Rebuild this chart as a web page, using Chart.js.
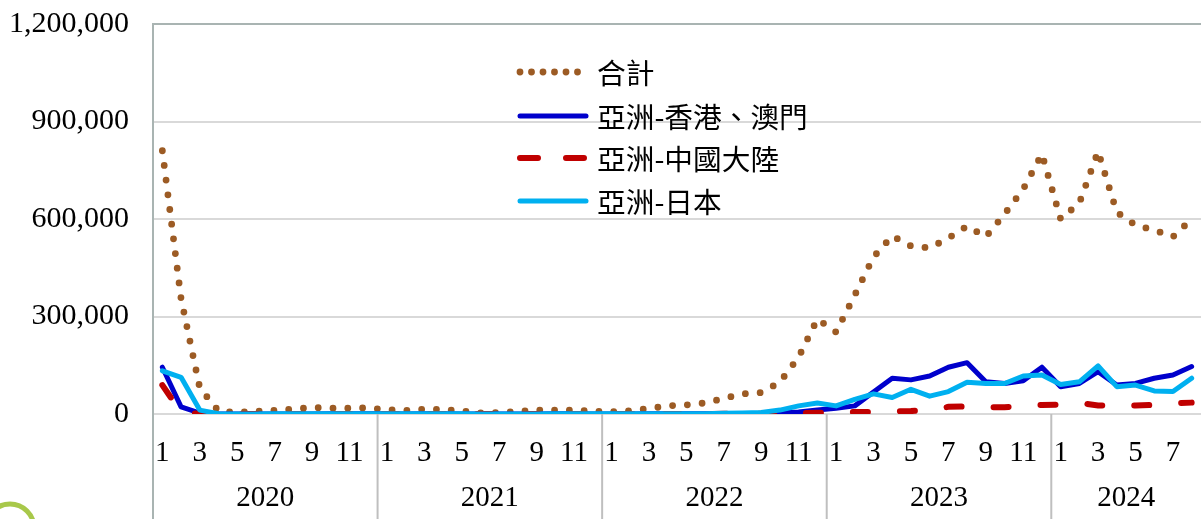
<!DOCTYPE html>
<html lang="zh-Hant">
<head>
<meta charset="UTF-8" />
<title>亞洲旅客人數</title>
<script src="https://cdn.jsdelivr.net/npm/chart.js"></script>
<style>
  html, body { margin: 0; padding: 0; background: #fff; overflow: hidden; }
  .wrap { width: 1201px; height: 519px; position: relative; }
</style>
</head>
<body>
<div class="wrap"><canvas id="chart"></canvas></div>
<script>
// months shown on the axis, one entry per data point (2020-01 .. 2024-08)
const years = ["2020", "2021", "2022", "2023", "2024"];
const monthsPerYear = [12, 12, 12, 12, 8];
const months = [];
years.forEach((y, i) => {
  for (let m = 1; m <= monthsPerYear[i]; m++) months.push(String(m));
});

const yTicks = [0, 300000, 600000, 900000, 1200000];

const total = [
  810000, 355000, 80000, 9000, 5000, 8000, 11000, 15000, 20000, 18000, 18000, 19000,
  13000, 11000, 15000, 14000, 9000, 3000, 4000, 8000, 12000, 12000, 12000, 9000,
  7000, 10000, 17000, 25000, 28000, 34000, 48000, 62000, 66000, 98000, 175000, 292000,
  252000, 366000, 483000, 548000, 517000, 511000, 541000, 578000, 545000, 615000, 692000, 800000,
  600000, 649000, 808000, 621000, 581000, 566000, 545000, 600000
];
const hkMacau = [
  144000, 22000, 3000, 500, 300, 300, 300, 300, 300, 400, 400, 500,
  400, 300, 400, 400, 300, 200, 200, 300, 300, 400, 400, 300,
  300, 300, 400, 400, 500, 600, 800, 1000, 1500, 3000, 6000, 12000,
  18000, 25000, 68000, 110000, 105000, 117000, 144000, 158000, 99000, 94000, 102000, 144000,
  84000, 94000, 130000, 89000, 94000, 110000, 120000, 146000
];
const china = [
  89000, 5000, 500, 200, 200, 300, 300, 300, 300, 300, 300, 300,
  200, 200, 200, 200, 200, 100, 100, 200, 200, 200, 200, 200,
  200, 200, 200, 200, 300, 300, 400, 500, 700, 1000, 3000, 4000,
  5000, 6000, 6000, 8000, 9000, 12000, 22000, 23000, 21000, 21000, 24000, 28000,
  29000, 34000, 26000, 26000, 26000, 28000, 33000, 35000
];
const japan = [
  133000, 113000, 12000, 1000, 300, 300, 400, 500, 500, 600, 700, 800,
  600, 500, 500, 500, 400, 300, 300, 300, 300, 400, 500, 500,
  400, 500, 600, 700, 800, 1000, 2000, 3000, 5000, 12000, 25000, 34000,
  25000, 45000, 62000, 51000, 76000, 55000, 69000, 98000, 94000, 94000, 117000, 120000,
  91000, 99000, 148000, 84000, 89000, 71000, 69000, 110000
];

const serif = "'Liberation Serif', 'Times New Roman', serif";
const cjk = "'Noto Sans CJK TC', 'Noto Sans CJK SC', sans-serif";

const decor = {
  id: "decor",
  afterDraw(chart) {
    const ctx = chart.ctx;
    const xs = chart.scales.x;
    const area = chart.chartArea;
    const H = chart.height;
    ctx.save();

    // year separators and year labels
    let start = 0;
    ctx.strokeStyle = "#BFBFBF";
    ctx.lineWidth = 2;
    ctx.fillStyle = "#000";
    ctx.font = "29px " + serif;
    ctx.textAlign = "center";
    ctx.textBaseline = "middle";
    years.forEach((y, i) => {
      const end = start + monthsPerYear[i] - 1;
      if (start > 0) {
        const sx = (xs.getPixelForValue(start - 1) + xs.getPixelForValue(start)) / 2;
        ctx.beginPath();
        ctx.moveTo(sx, area.bottom);
        ctx.lineTo(sx, H);
        ctx.stroke();
      }
      const cx = (xs.getPixelForValue(start) + xs.getPixelForValue(end)) / 2;
      ctx.fillText(y, cx, 498);
      start = end + 1;
    });
    ctx.strokeStyle = "#A9B4B2";
    ctx.beginPath();
    ctx.moveTo(area.left, area.bottom);
    ctx.lineTo(area.left, H);
    ctx.stroke();

    // legend inside plot area
    const rows = [72, 116, 158, 201];
    ctx.textAlign = "left";
    ctx.font = "28.7px " + cjk;
    chart.data.datasets.forEach((ds, i) => {
      const y = rows[i];
      ctx.strokeStyle = ds.borderColor;
      ctx.lineWidth = ds.borderWidth;
      ctx.lineCap = "round";
      ctx.setLineDash(ds.legendDash || []);
      ctx.beginPath();
      ctx.moveTo(520, y);
      ctx.lineTo(586, y);
      ctx.stroke();
      ctx.setLineDash([]);
      ctx.fillStyle = "#000";
      ctx.fillText(ds.label, 597, y + 1);
    });

    // corner logo arc
    ctx.strokeStyle = "#A8C84A";
    ctx.lineWidth = 5;
    ctx.beginPath();
    ctx.arc(10, 528, 24, 0, Math.PI * 2);
    ctx.stroke();
    ctx.restore();
  }
};

new Chart(document.getElementById("chart"), {
  type: "line",
  data: {
    labels: months,
    datasets: [
      {
        label: "合計",
        data: total,
        borderColor: "#9C5B24",
        borderWidth: 6.8,
        borderDash: [0, 14.8],
        legendDash: [0, 11.5],
        borderCapStyle: "round",
        pointRadius: 0,
        order: 4
      },
      {
        label: "亞洲-香港、澳門",
        data: hkMacau,
        borderColor: "#0000CC",
        borderWidth: 5,
        borderJoinStyle: "round",
        borderCapStyle: "round",
        pointRadius: 0,
        order: 3
      },
      {
        label: "亞洲-中國大陸",
        data: china,
        borderColor: "#C00000",
        borderWidth: 6,
        borderDash: [15, 32],
        legendDash: [18, 28],
        borderCapStyle: "round",
        pointRadius: 0,
        order: 2
      },
      {
        label: "亞洲-日本",
        data: japan,
        borderColor: "#00B0F0",
        borderWidth: 5,
        borderJoinStyle: "round",
        borderCapStyle: "round",
        pointRadius: 0,
        order: 1
      }
    ]
  },
  options: {
    responsive: true,
    maintainAspectRatio: false,
    animation: false,
    layout: { padding: { top: 24, right: 0, left: 0, bottom: 0 } },
    plugins: {
      legend: { display: false },
      tooltip: { enabled: false }
    },
    scales: {
      x: {
        type: "category",
        offset: true,
        grid: { display: false, drawTicks: false },
        border: { display: false },
        ticks: {
          autoSkip: false,
          maxRotation: 0,
          minRotation: 0,
          padding: 22,
          color: "#000",
          font: { family: serif, size: 29 },
          callback: function (v, i) {
            const m = Number(months[i]);
            return m % 2 === 1 ? months[i] : "";
          }
        },
        afterFit(scale) {
          scale.height = 105;
          scale.paddingLeft = 0;
          scale.paddingRight = 0;
        }
      },
      y: {
        min: 0,
        max: 1200000,
        afterBuildTicks(scale) {
          scale.ticks = yTicks.map((v) => ({ value: v }));
        },
        grid: {
          color: (c) => (c.tick && c.tick.value === 1200000 ? "#A9B4B2" : "#D9D9D9"),
          lineWidth: 2,
          drawTicks: false
        },
        border: { display: true, color: "#A9B4B2", width: 2 },
        ticks: {
          padding: 24,
          color: "#000",
          font: { family: serif, size: 30 },
          callback: (v) => Number(v).toLocaleString("en-US")
        },
        afterFit(scale) {
          scale.width = 153;
          scale.paddingTop = 0;
          scale.paddingBottom = 0;
        }
      }
    }
  },
  plugins: [decor]
});
</script>
</body>
</html>
